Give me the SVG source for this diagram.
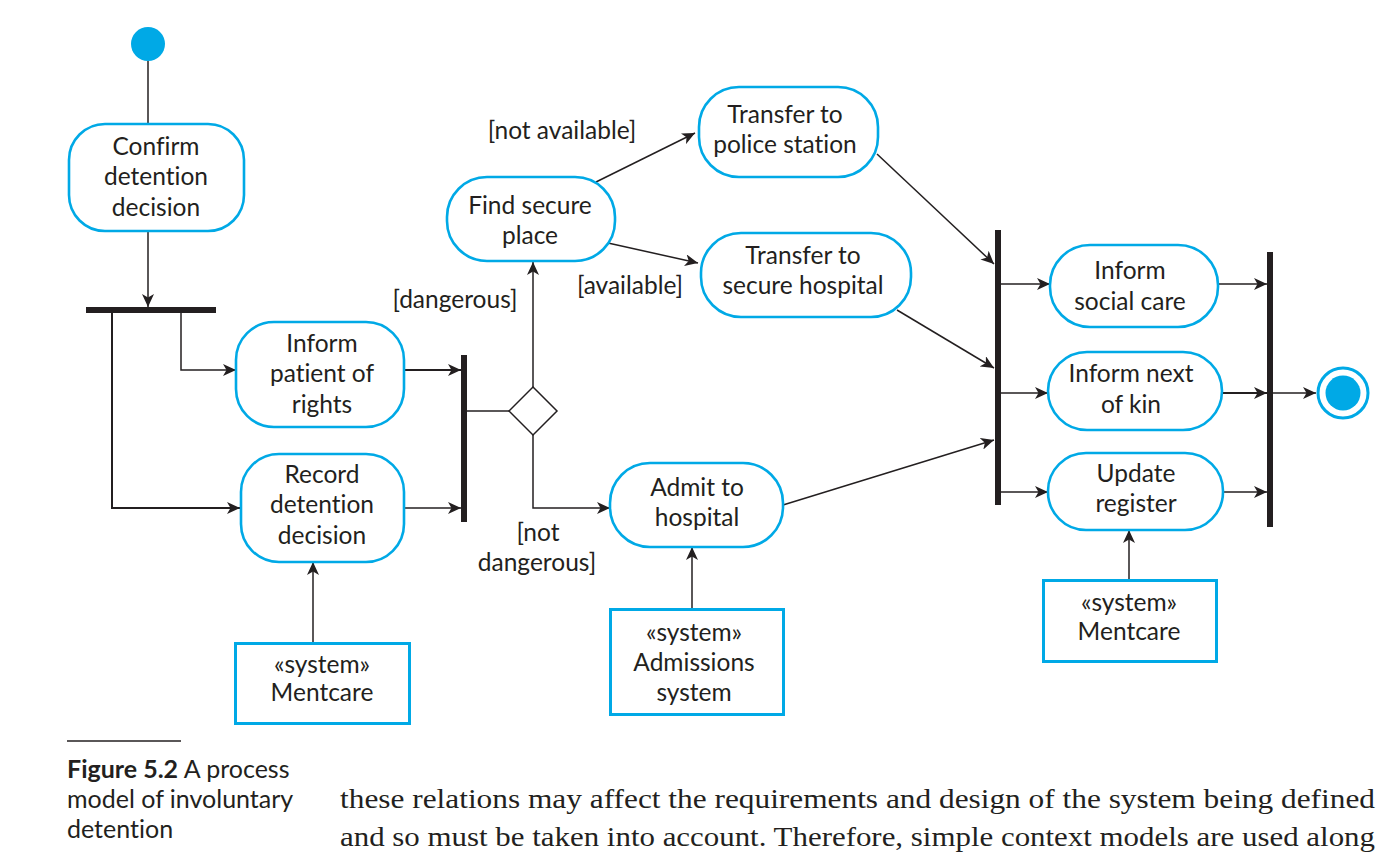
<svg xmlns="http://www.w3.org/2000/svg" width="1391" height="860" viewBox="0 0 1391 860">
<style>
text{font-variant-ligatures:none;font-feature-settings:"liga" 0,"dlig" 0}
.n{fill:#fff;stroke:#00a9e6;stroke-width:2.6}
.t{font-family:Lato,"Open Sans",sans-serif;font-size:24.5px;fill:#231f20;text-anchor:middle}
.l{font-family:Lato,"Open Sans",sans-serif;font-size:24.5px;fill:#231f20;text-anchor:middle}
.c{stroke:#231f20;stroke-width:1.5;fill:none}
.bar{fill:#231f20}
.cap{font-family:Lato,"Open Sans",sans-serif;font-size:25px;fill:#231f20}
.body{font-family:"Liberation Serif",serif;font-size:27px;fill:#231f20}
</style>
<defs>
<marker id="a" markerUnits="userSpaceOnUse" markerWidth="14" markerHeight="12" refX="13" refY="6" orient="auto">
<path d="M0,0 L13,6 L0,12 L3.5,6 z" fill="#231f20"/>
</marker>
</defs>
<rect width="1391" height="860" fill="#fff"/>

<g id="connectors">
<line class="c" x1="148" y1="61" x2="148" y2="124"/>
<line class="c" x1="148" y1="231" x2="148" y2="307" marker-end="url(#a)"/>
<polyline class="c" points="112,313 112,508 240,508" marker-end="url(#a)" style="stroke-width:2"/>
<polyline class="c" points="181,313 181,370 236,370" marker-end="url(#a)"/>
<line class="c" x1="404" y1="370" x2="461" y2="370" marker-end="url(#a)" style="stroke-width:2.2"/>
<line class="c" x1="404" y1="508" x2="461" y2="508" marker-end="url(#a)"/>
<line class="c" x1="467" y1="411" x2="509" y2="411"/>
<line class="c" x1="533" y1="387" x2="533" y2="262" marker-end="url(#a)"/>
<polyline class="c" points="533,435 533,508 610,508" marker-end="url(#a)"/>
<line class="c" x1="596" y1="182" x2="695" y2="133" marker-end="url(#a)"/>
<line class="c" x1="608" y1="243" x2="698" y2="263" marker-end="url(#a)"/>
<line class="c" x1="877" y1="154" x2="994" y2="264" marker-end="url(#a)"/>
<line class="c" x1="897" y1="310" x2="994" y2="368" marker-end="url(#a)"/>
<line class="c" x1="783" y1="505" x2="994" y2="440" marker-end="url(#a)"/>
<line class="c" x1="692" y1="609" x2="692" y2="547" marker-end="url(#a)"/>
<line class="c" x1="313" y1="643" x2="313" y2="562" marker-end="url(#a)"/>
<line class="c" x1="1129" y1="580" x2="1129" y2="530" marker-end="url(#a)"/>
<line class="c" x1="1001" y1="284" x2="1050" y2="284" marker-end="url(#a)"/>
<line class="c" x1="1001" y1="393" x2="1048" y2="393" marker-end="url(#a)"/>
<line class="c" x1="1001" y1="492" x2="1048" y2="492" marker-end="url(#a)"/>
<line class="c" x1="1218" y1="284" x2="1267" y2="284" marker-end="url(#a)"/>
<line class="c" x1="1222" y1="393" x2="1267" y2="393" marker-end="url(#a)" style="stroke-width:2.2"/>
<line class="c" x1="1223" y1="492" x2="1267" y2="492" marker-end="url(#a)"/>
<line class="c" x1="1273" y1="393" x2="1316" y2="393" marker-end="url(#a)"/>
</g>

<g id="labels">
<text class="l" x="562" y="139">[not available]</text>
<text class="l" x="630" y="294">[available]</text>
<text class="l" x="455" y="308">[dangerous]</text>
<text class="l" x="538" y="541">[not</text>
<text class="l" x="537" y="571">dangerous]</text>
</g>

<g id="start"><circle cx="148" cy="44" r="17" fill="#00a9e6"/></g>
<g id="end"><circle cx="1343" cy="393" r="25" fill="#fff" stroke="#00a9e6" stroke-width="3"/><circle cx="1343" cy="393" r="17.5" fill="#00a9e6"/></g>

<g id="fork1"><rect class="bar" x="86" y="307" width="130" height="6"/></g>
<g id="join1"><rect class="bar" x="461" y="355" width="6" height="167"/></g>
<g id="join2"><rect class="bar" x="995" y="230" width="6" height="275"/></g>
<g id="join3"><rect class="bar" x="1267" y="252" width="6" height="275"/></g>
<g id="decision"><path d="M533,387 L557,411 L533,435 L509,411 z" fill="#fff" stroke="#231f20" stroke-width="1.5"/></g>

<g id="confirm"><rect class="n" x="69" y="124" width="175" height="107" rx="36"/>
<text class="t" x="156" y="155">Confirm</text><text class="t" x="156" y="185">detention</text><text class="t" x="156" y="216">decision</text></g>
<g id="inform-patient"><rect class="n" x="236" y="322" width="168" height="105" rx="38"/>
<text class="t" x="322" y="352">Inform</text><text class="t" x="322" y="382">patient of</text><text class="t" x="322" y="413">rights</text></g>
<g id="record"><rect class="n" x="241" y="454" width="163" height="108" rx="38"/>
<text class="t" x="322" y="483">Record</text><text class="t" x="322" y="513">detention</text><text class="t" x="322" y="544">decision</text></g>
<g id="find"><rect class="n" x="447" y="177" width="168" height="84" rx="40"/>
<text class="t" x="530" y="214">Find secure</text><text class="t" x="530" y="244">place</text></g>
<g id="police"><rect class="n" x="699" y="87" width="179" height="90" rx="40"/>
<text class="t" x="785" y="123">Transfer to</text><text class="t" x="785" y="153">police station</text></g>
<g id="secure-hospital"><rect class="n" x="701" y="233" width="210" height="84" rx="40"/>
<text class="t" x="803" y="264">Transfer to</text><text class="t" x="803" y="294">secure hospital</text></g>
<g id="admit"><rect class="n" x="610" y="463" width="173" height="84" rx="40"/>
<text class="t" x="697" y="496">Admit to</text><text class="t" x="697" y="526">hospital</text></g>
<g id="social"><rect class="n" x="1050" y="245" width="168" height="82" rx="40"/>
<text class="t" x="1130" y="279">Inform</text><text class="t" x="1130" y="310">social care</text></g>
<g id="kin"><rect class="n" x="1048" y="352" width="174" height="78" rx="39"/>
<text class="t" x="1131" y="382">Inform next</text><text class="t" x="1131" y="413">of kin</text></g>
<g id="update"><rect class="n" x="1048" y="453" width="175" height="77" rx="38"/>
<text class="t" x="1136" y="482">Update</text><text class="t" x="1136" y="512">register</text></g>

<g id="sys-mentcare1"><rect x="235.5" y="643.5" width="174" height="80" fill="#fff" stroke="#00a9e6" stroke-width="3"/>
<text class="t" x="322" y="673">«system»</text><text class="t" x="322" y="701">Mentcare</text></g>
<g id="sys-admissions"><rect x="610.5" y="609.5" width="173" height="105" fill="#fff" stroke="#00a9e6" stroke-width="3"/>
<text class="t" x="694" y="641">«system»</text><text class="t" x="694" y="671">Admissions</text><text class="t" x="694" y="701">system</text></g>
<g id="sys-mentcare2"><rect x="1043.5" y="580.5" width="173" height="81" fill="#fff" stroke="#00a9e6" stroke-width="3"/>
<text class="t" x="1129" y="611">«system»</text><text class="t" x="1129" y="640">Mentcare</text></g>

<g id="caption">
<line x1="67" y1="741" x2="181" y2="741" stroke="#231f20" stroke-width="1.5"/>
<text class="cap" x="67" y="778"><tspan font-weight="bold">Figure 5.2</tspan>  A process</text>
<text class="cap" x="67" y="808">model of involuntary</text>
<text class="cap" x="67" y="838">detention</text>
<text class="body" x="340" y="808" textLength="1035" lengthAdjust="spacingAndGlyphs">these relations may affect the requirements and design of the system being defined</text>
<text class="body" x="340" y="846" textLength="1035" lengthAdjust="spacingAndGlyphs">and so must be taken into account. Therefore, simple context models are used along</text>
</g>
</svg>
